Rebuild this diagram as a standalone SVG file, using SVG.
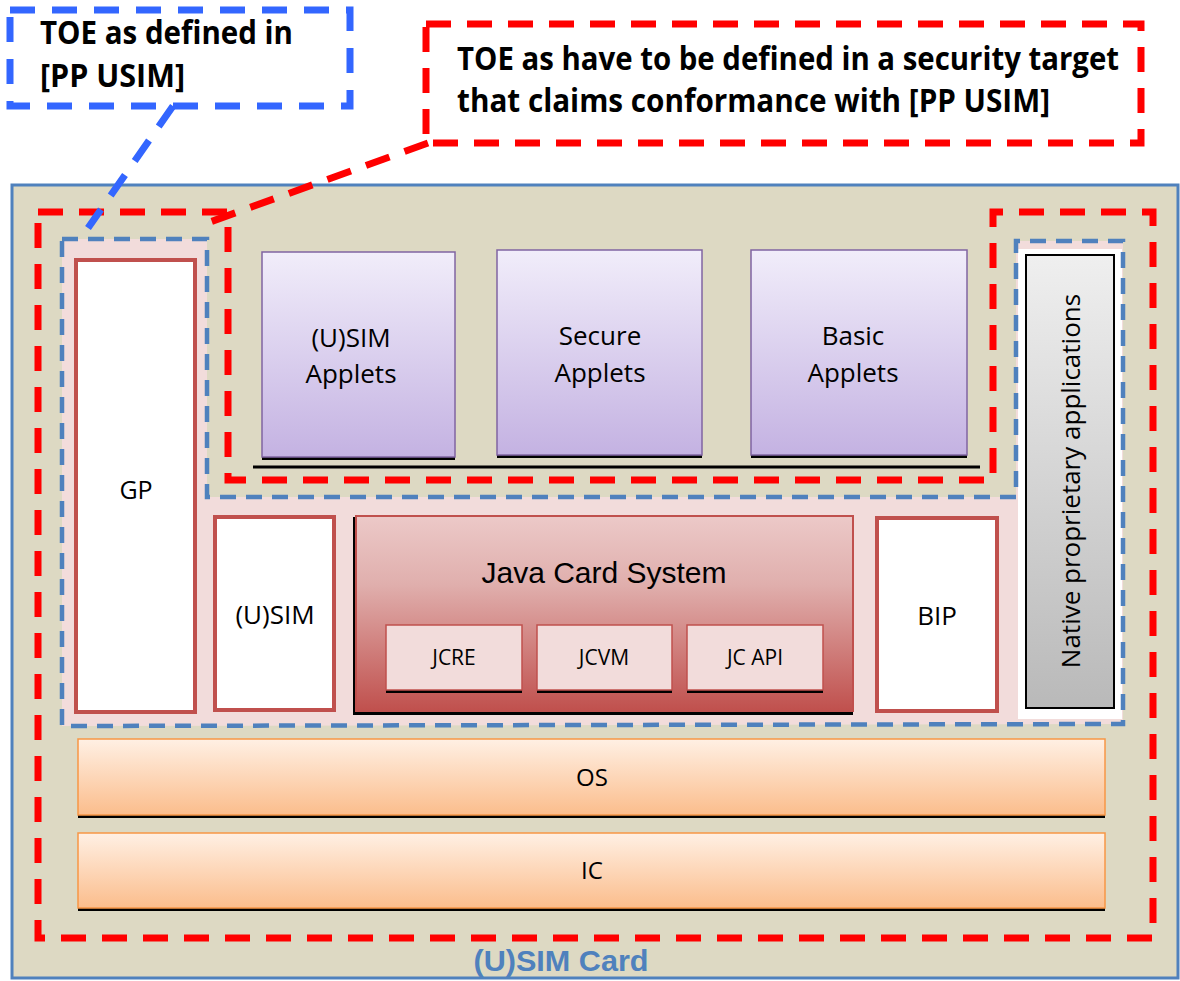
<svg xmlns="http://www.w3.org/2000/svg" width="1180" height="981" viewBox="0 0 1180 981">
  <defs>
    <linearGradient id="gApplet" x1="0" y1="0" x2="0" y2="1">
      <stop offset="0" stop-color="#f1edfa"/>
      <stop offset="1" stop-color="#c4b2e2"/>
    </linearGradient>
    <linearGradient id="gOrange" x1="0" y1="0" x2="0" y2="1">
      <stop offset="0" stop-color="#fff0e4"/>
      <stop offset="1" stop-color="#fbbd8c"/>
    </linearGradient>
    <linearGradient id="gJcs" x1="0" y1="0" x2="0" y2="1">
      <stop offset="0" stop-color="#ecc9c8"/>
      <stop offset="0.35" stop-color="#e0afad"/>
      <stop offset="1" stop-color="#c0504d"/>
    </linearGradient>
    <linearGradient id="gGray" x1="0" y1="0" x2="0" y2="1">
      <stop offset="0" stop-color="#efefef"/>
      <stop offset="1" stop-color="#b9b9b9"/>
    </linearGradient>
    <style>
      .calibri { font-family: "Open Sans", "Noto Sans", sans-serif; fill: #000; }
      .bold { font-family: "Open Sans", "Noto Sans", sans-serif; font-weight: bold; font-size: 31.5px; fill: #000; }
      .applet { fill: url(#gApplet); stroke: #8064a2; stroke-width: 1.5; }
      .redbox { fill: #ffffff; stroke: #c0504d; stroke-width: 4; }
      .layer { fill: url(#gOrange); stroke: #f79646; stroke-width: 1.5; }
      .jc { fill: #f2dcdb; stroke: #c0504d; stroke-width: 1.5; }
      .shadow { fill: #000; }
      .reddash { fill: none; stroke: #ff0000; stroke-width: 7; stroke-dasharray: 25 16; }
      .bluedash { fill: none; stroke: #3366ff; stroke-width: 7; stroke-dasharray: 25 17; }
      .innerdash { fill: none; stroke: #4f81bd; stroke-width: 4.5; stroke-dasharray: 16 10; }
    </style>
  </defs>

  <g id="usim-card">
    <rect x="12" y="185" width="1166" height="793" fill="#ddd9c3" stroke="#4f81bd" stroke-width="3"/>
    <text x="561" y="971" text-anchor="middle" font-family="Liberation Sans, Arial, sans-serif" font-weight="bold" font-size="30" fill="#4f81bd" textLength="175" lengthAdjust="spacingAndGlyphs">(U)SIM Card</text>
  </g>

  <g id="pp-usim-area">
    <polygon points="62,239 207,239 207,497 1016,497 1016,241 1123,241 1123,724 62,726" fill="#f2dcdb"/>
  </g>

  <g id="gp">
    <rect class="redbox" x="76" y="260" width="119" height="452"/>
    <text class="calibri" x="136" y="499" font-size="25" text-anchor="middle">GP</text>
  </g>

  <g id="usim-applets">
    <rect class="shadow" x="262" y="255" width="193" height="205"/>
    <rect class="applet" x="262" y="252" width="193" height="205"/>
    <text class="calibri" x="351" y="347" font-size="26" text-anchor="middle">(U)SIM</text>
    <text class="calibri" x="351" y="383" font-size="26" text-anchor="middle">Applets</text>
  </g>

  <g id="secure-applets">
    <rect class="shadow" x="497" y="253" width="205" height="205"/>
    <rect class="applet" x="497" y="250" width="205" height="205"/>
    <text class="calibri" x="600" y="345" font-size="26" text-anchor="middle">Secure</text>
    <text class="calibri" x="600" y="382" font-size="26" text-anchor="middle">Applets</text>
  </g>

  <g id="basic-applets">
    <rect class="shadow" x="751" y="253" width="216" height="205"/>
    <rect class="applet" x="751" y="250" width="216" height="205"/>
    <text class="calibri" x="853" y="345" font-size="26" text-anchor="middle">Basic</text>
    <text class="calibri" x="853" y="382" font-size="26" text-anchor="middle">Applets</text>
  </g>

  <g id="applets-base-line">
    <line x1="253" y1="467" x2="980" y2="467" stroke="#000" stroke-width="3"/>
  </g>

  <g id="usim">
    <rect class="redbox" x="215" y="517" width="119" height="193"/>
    <text class="calibri" x="275" y="624" font-size="26" text-anchor="middle">(U)SIM</text>
  </g>

  <g id="java-card-system">
    <rect class="shadow" x="353" y="517" width="500" height="198"/>
    <rect x="356" y="516" width="497" height="195" fill="url(#gJcs)" stroke="#c0504d" stroke-width="2"/>
    <text x="604" y="583" font-family="Liberation Sans, Arial, sans-serif" font-size="30" text-anchor="middle" fill="#000">Java Card System</text>
    <g id="jcre">
      <rect class="shadow" x="386" y="628" width="136" height="65"/>
      <rect class="jc" x="386" y="625" width="136" height="65"/>
      <text class="calibri" x="454" y="665" font-size="21" text-anchor="middle">JCRE</text>
    </g>
    <g id="jcvm">
      <rect class="shadow" x="537" y="628" width="135" height="65"/>
      <rect class="jc" x="537" y="625" width="135" height="65"/>
      <text class="calibri" x="604" y="665" font-size="21" text-anchor="middle">JCVM</text>
    </g>
    <g id="jc-api">
      <rect class="shadow" x="687" y="628" width="136" height="65"/>
      <rect class="jc" x="687" y="625" width="136" height="65"/>
      <text class="calibri" x="755" y="665" font-size="21" text-anchor="middle">JC API</text>
    </g>
  </g>

  <g id="bip">
    <rect class="redbox" x="877" y="518" width="120" height="193"/>
    <text class="calibri" x="937" y="625" font-size="26" text-anchor="middle">BIP</text>
  </g>

  <g id="native-apps">
    <rect x="1018" y="249" width="104" height="470" fill="#ffffff"/>
    <rect x="1026" y="255" width="88" height="453" fill="url(#gGray)" stroke="#000" stroke-width="2"/>
    <text class="calibri" x="1080" y="481" font-size="26" text-anchor="middle" transform="rotate(-90 1080 481)">Native proprietary applications</text>
  </g>

  <g id="os">
    <rect class="shadow" x="78" y="742" width="1027" height="76"/>
    <rect class="layer" x="78" y="739" width="1027" height="76"/>
    <text class="calibri" x="592" y="786" font-size="24" text-anchor="middle">OS</text>
  </g>

  <g id="ic">
    <rect class="shadow" x="78" y="836" width="1027" height="75"/>
    <rect class="layer" x="78" y="833" width="1027" height="75"/>
    <text class="calibri" x="592" y="879" font-size="24" text-anchor="middle">IC</text>
  </g>

  <g id="toe-pp-usim-boundary">
    <polygon class="innerdash" points="62,239 207,239 207,497 1016,497 1016,241 1123,241 1123,724 62,726"/>
  </g>

  <g id="toe-st-boundary">
    <polygon class="reddash" points="38,212 228,212 228,480 993,480 993,212 1153,212 1153,938 38,938"/>
  </g>

  <g id="callout-pp-usim">
    <rect class="bluedash" x="10" y="10" width="340" height="96"/>
    <text class="bold" x="40" y="44" textLength="253" lengthAdjust="spacingAndGlyphs">TOE as defined in</text>
    <text class="bold" x="40" y="87" textLength="145" lengthAdjust="spacingAndGlyphs">[PP USIM]</text>
  </g>

  <g id="callout-st">
    <rect class="reddash" x="426" y="24" width="715" height="119"/>
    <text class="bold" x="457" y="70" textLength="662" lengthAdjust="spacingAndGlyphs">TOE as have to be defined in a security target</text>
    <text class="bold" x="457" y="112" textLength="593" lengthAdjust="spacingAndGlyphs">that claims conformance with [PP USIM]</text>
  </g>

  <g id="connectors">
    <line class="bluedash" x1="173" y1="106" x2="88" y2="228"/>
    <line class="reddash" x1="428" y1="143" x2="210" y2="222"/>
  </g>
</svg>
